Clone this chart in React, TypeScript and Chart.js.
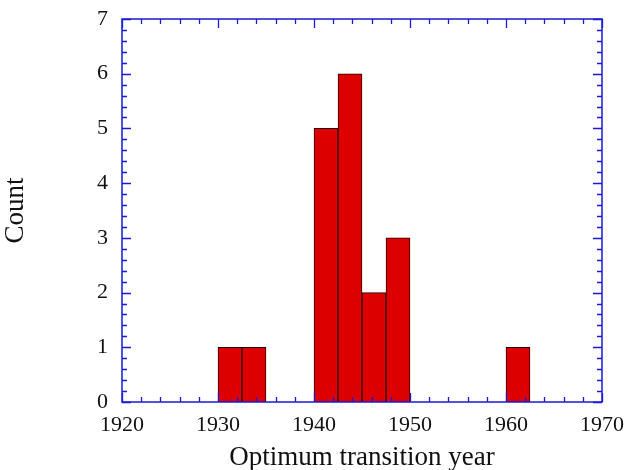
import { useEffect, useRef } from 'react';
import { Chart, registerables } from 'chart.js';

Chart.register(...registerables);

const binCenters = [1931.25, 1933.75, 1941.25, 1943.75, 1946.25, 1948.75, 1961.25];
const counts = [1, 1, 5, 6, 2, 3, 1];
const xRange = [1920, 1970];
const yRange = [0, 7];
const xLabel = 'Optimum transition year';
const yLabel = 'Count';

const FONT = "'Liberation Serif', 'Times New Roman', serif";
const AXIS_BLUE = '#1a1ad8';

const framePlugin = {
  id: 'frame',
  afterDatasetsDraw(chart: any) {
    const { ctx, chartArea, scales } = chart;
    const { left, right, top, bottom } = chartArea;
    const x = scales.x;
    const y = scales.y;
    ctx.save();
    ctx.strokeStyle = AXIS_BLUE;
    ctx.lineWidth = 1.5;
    ctx.strokeRect(left, top, right - left, bottom - top);
    ctx.lineWidth = 1.3;
    ctx.beginPath();
    for (let v = xRange[0]; v <= xRange[1]; v += 2) {
      const px = Math.round(x.getPixelForValue(v)) + 0.5;
      const len = v % 10 === 0 ? 9 : 5;
      ctx.moveTo(px, bottom);
      ctx.lineTo(px, bottom - len);
      ctx.moveTo(px, top);
      ctx.lineTo(px, top + len);
    }
    for (let i = 0; i <= (yRange[1] - yRange[0]) * 5; i++) {
      const v = yRange[0] + i / 5;
      const py = Math.round(y.getPixelForValue(v)) + 0.5;
      const len = i % 5 === 0 ? 9 : 5;
      ctx.moveTo(left, py);
      ctx.lineTo(left + len, py);
      ctx.moveTo(right, py);
      ctx.lineTo(right - len, py);
    }
    ctx.stroke();
    ctx.restore();
  },
};

export default function App() {
  const ref = useRef<HTMLCanvasElement | null>(null);
  useEffect(() => {
    if (!ref.current) return;
    const chart = new Chart(ref.current, {
      type: 'bar',
      data: {
        datasets: [
          {
            data: binCenters.map((c, i) => ({ x: c, y: counts[i] })),
            backgroundColor: '#dd0000',
            borderColor: '#2a0000',
            borderWidth: 1,
            barPercentage: 1,
            categoryPercentage: 1,
          },
        ],
      },
      options: {
        animation: false,
        responsive: true,
        maintainAspectRatio: false,
        layout: { padding: { top: 19, right: 25, left: 0, bottom: 0 } },
        plugins: { legend: { display: false }, tooltip: { enabled: false } },
        scales: {
          x: {
            type: 'linear',
            min: xRange[0],
            max: xRange[1],
            offset: false,
            grid: { display: false, drawTicks: false },
            border: { display: false },
            ticks: {
              stepSize: 10,
              color: '#111',
              font: { family: FONT, size: 22 },
              padding: 10,
              maxRotation: 0,
              callback: (v: any) => String(v),
            },
            title: {
              display: true,
              text: xLabel,
              color: '#111',
              font: { family: FONT, size: 27 },
              padding: { top: 0, bottom: -4 },
            },
            afterFit(s: any) {
              s.height = 68;
              s.paddingLeft = 0;
              s.paddingRight = 0;
            },
          },
          y: {
            min: yRange[0],
            max: yRange[1],
            grid: { display: false, drawTicks: false },
            border: { display: false },
            ticks: {
              stepSize: 1,
              color: '#111',
              font: { family: FONT, size: 22 },
              padding: 14,
            },
            title: {
              display: true,
              text: yLabel,
              color: '#111',
              font: { family: FONT, size: 27 },
              padding: { top: 0, bottom: 0 },
            },
            afterFit(s: any) {
              s.width = 122;
              s.paddingTop = 0;
              s.paddingBottom = 0;
            },
          },
        },
      },
      plugins: [framePlugin],
    });
    return () => chart.destroy();
  }, []);
  return (
    <div style={{ position: 'absolute', left: 0, top: 0, width: 627, height: 470, background: '#fff' }}>
      <canvas ref={ref} />
    </div>
  );
}
